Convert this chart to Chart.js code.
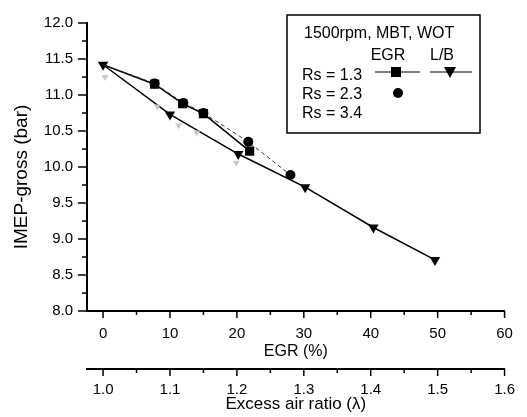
<!DOCTYPE html>
<html>
<head>
<meta charset="utf-8">
<script src="https://cdn.jsdelivr.net/npm/chart.js@4.4.0/dist/chart.umd.min.js"></script>
<style>
  html, body { margin: 0; padding: 0; background: #fff; }
  #wrap { width: 527px; height: 417px; }
</style>
</head>
<body>
<div id="wrap"><canvas id="chart"></canvas></div>
<script>
// values
const egrRs13X = [0, 7.7, 11.9, 15.0, 21.9];
const egrRs13Y = [11.42, 11.15, 10.88, 10.74, 10.22];
const egrRs23X = [0, 7.7, 12.0, 15.0, 21.7, 28.0];
const egrRs23Y = [11.42, 11.16, 10.89, 10.75, 10.35, 9.89];
const lbRs13X = [0, 10.0, 20.2, 30.2, 40.4, 49.6];
const lbRs13Y = [11.42, 10.73, 10.18, 9.72, 9.16, 8.71];
const rs34X = [0.3, 8.1, 11.3, 14.0, 19.9];
const rs34Y = [11.25, 10.84, 10.58, 10.48, 10.06];

const legendTitle = '1500rpm, MBT, WOT';
const legendCols = ['EGR', 'L/B'];
const legendRows = ['Rs = 1.3', 'Rs = 2.3', 'Rs = 3.4'];

const FONT = 'Arial, "Liberation Sans", sans-serif';

const pts = (xs, ys) => xs.map((x, i) => ({x: x, y: ys[i]}));

// tick marks, drawn from the scales' own ticks
const tickMarks = {
  id: 'tickMarks',
  afterDraw(chart) {
    const ctx = chart.ctx;
    ctx.save();
    ctx.strokeStyle = '#000';
    ctx.lineWidth = 1.5;
    ['x', 'x2'].forEach(id => {
      const s = chart.scales[id];
      s.ticks.forEach(t => {
        const px = s.getPixelForValue(t.value);
        const len = t.label !== '' ? 7 : 4;
        ctx.beginPath();
        ctx.moveTo(px, s.top);
        ctx.lineTo(px, s.top + len);
        ctx.stroke();
      });
    });
    const y = chart.scales.y;
    y.ticks.forEach(t => {
      const py = y.getPixelForValue(t.value);
      const len = t.label !== '' ? 9 : 5;
      ctx.beginPath();
      ctx.moveTo(y.right, py);
      ctx.lineTo(y.right - len, py);
      ctx.stroke();
    });
    ctx.restore();
  }
};

const yTitle = {
  id: 'yTitle',
  afterDraw(chart) {
    const ctx = chart.ctx;
    ctx.save();
    ctx.translate(22, 177);
    ctx.rotate(-Math.PI / 2);
    ctx.font = '19px ' + FONT;
    ctx.fillStyle = '#000';
    ctx.textAlign = 'center';
    ctx.textBaseline = 'middle';
    ctx.fillText('IMEP-gross (bar)', 0, 0);
    ctx.restore();
  }
};

const boxLegend = {
  id: 'boxLegend',
  afterDraw(chart) {
    const ctx = chart.ctx;
    ctx.save();
    ctx.strokeStyle = '#000';
    ctx.lineWidth = 1.5;
    ctx.strokeRect(287, 15, 193, 118);
    ctx.fillStyle = '#000';
    ctx.font = '16px ' + FONT;
    ctx.textBaseline = 'middle';
    ctx.textAlign = 'left';
    ctx.fillText(legendTitle, 304, 34);
    ctx.textAlign = 'center';
    ctx.fillText(legendCols[0], 388, 56);
    ctx.fillText(legendCols[1], 442, 56);
    ctx.textAlign = 'left';
    legendRows.forEach((r, i) => ctx.fillText(r, 302, 76 + i * 19));
    // sample marks
    ctx.lineWidth = 1.2;
    ctx.beginPath();
    ctx.moveTo(375, 72); ctx.lineTo(420, 72);
    ctx.moveTo(430, 72); ctx.lineTo(472, 72);
    ctx.stroke();
    ctx.fillRect(391, 67, 10, 10);
    ctx.beginPath();
    ctx.moveTo(444, 67); ctx.lineTo(456, 67); ctx.lineTo(450, 78);
    ctx.closePath(); ctx.fill();
    ctx.beginPath();
    ctx.arc(398, 93, 5, 0, Math.PI * 2);
    ctx.fill();
    ctx.restore();
  }
};

new Chart(document.getElementById('chart'), {
  type: 'scatter',
  data: {
    datasets: [
      {
        label: 'Rs = 3.4',
        data: pts(rs34X, rs34Y),
        showLine: false,
        pointStyle: 'triangle',
        rotation: 180,
        pointRadius: 4,
        backgroundColor: '#c8c8c8',
        borderColor: '#c8c8c8',
        borderWidth: 0
      },
      {
        label: 'EGR Rs = 2.3',
        data: pts(egrRs23X, egrRs23Y),
        showLine: true,
        borderColor: '#333',
        borderWidth: 1,
        borderDash: [4, 3],
        pointStyle: 'circle',
        pointRadius: [0, 5, 5, 5, 5, 5],
        backgroundColor: '#000',
        pointBorderWidth: 0
      },
      {
        label: 'EGR Rs = 1.3',
        data: pts(egrRs13X, egrRs13Y),
        showLine: true,
        borderColor: '#000',
        borderWidth: 1.5,
        pointStyle: 'rect',
        pointRadius: [0, 6.5, 6.5, 6.5, 6.5],
        backgroundColor: '#000',
        pointBorderWidth: 0
      },
      {
        label: 'L/B Rs = 1.3',
        data: pts(lbRs13X, lbRs13Y),
        showLine: true,
        borderColor: '#000',
        borderWidth: 1.5,
        pointStyle: 'triangle',
        rotation: 180,
        pointRadius: 6,
        backgroundColor: '#000',
        pointBorderWidth: 0
      }
    ]
  },
  options: {
    responsive: true,
    maintainAspectRatio: false,
    animation: false,
    layout: { padding: { left: 0, top: 14, right: 19, bottom: 0 } },
    plugins: { legend: { display: false }, tooltip: { enabled: false } },
    scales: {
      x: {
        type: 'linear',
        position: 'bottom',
        min: -2.4,
        max: 60,
        afterFit: s => { s.height = 58; },
        grid: { display: false, drawTicks: false },
        border: { display: true, color: '#000', width: 2 },
        ticks: {
          stepSize: 5,
          includeBounds: false,
          autoSkip: false,
          maxRotation: 0,
          padding: 14,
          color: '#000',
          font: { family: FONT, size: 15 },
          callback: v => (Math.round(v) % 10 === 0 ? String(v) : '')
        },
        title: {
          display: true,
          text: 'EGR (%)',
          color: '#000',
          font: { family: FONT, size: 16 },
          padding: { top: 0, bottom: 8 }
        }
      },
      x2: {
        type: 'linear',
        position: 'bottom',
        weight: 1,
        min: 0.976,
        max: 1.6,
        afterFit: s => { s.height = 48; },
        grid: { display: false, drawTicks: false },
        border: { display: true, color: '#000', width: 2 },
        ticks: {
          stepSize: 0.05,
          includeBounds: false,
          autoSkip: false,
          maxRotation: 0,
          padding: 12,
          color: '#000',
          font: { family: FONT, size: 15 },
          callback: v => (Math.round(v * 100) % 10 === 0 ? v.toFixed(1) : '')
        },
        title: {
          display: true,
          text: 'Excess air ratio (\u03bb)',
          color: '#000',
          font: { family: FONT, size: 17 },
          padding: { top: 0, bottom: 2 }
        }
      },
      y: {
        type: 'linear',
        min: 8,
        max: 12,
        afterFit: s => { s.width = 87; },
        grid: { display: false, drawTicks: false },
        border: { display: true, color: '#000', width: 2 },
        ticks: {
          stepSize: 0.25,
          autoSkip: false,
          padding: 14,
          color: '#000',
          font: { family: FONT, size: 15 },
          callback: v => (Math.round(v * 4) % 2 === 0 ? v.toFixed(1) : '')
        }
      }
    }
  },
  plugins: [tickMarks, yTitle, boxLegend]
});
</script>
</body>
</html>
